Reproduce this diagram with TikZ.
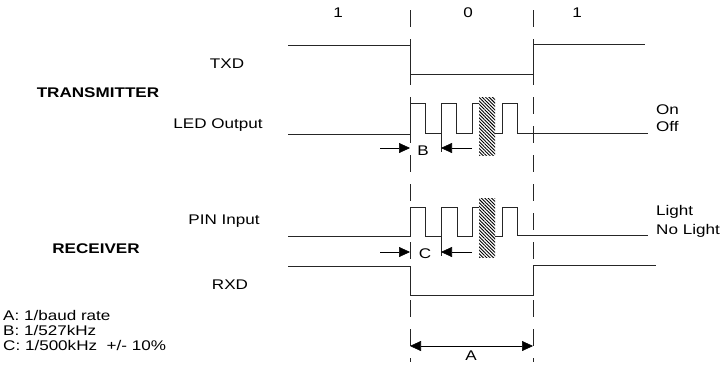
\documentclass[tikz,border=0pt]{standalone}
\usepackage{fontspec}
\setmainfont{Liberation Sans}[FakeStretch=1.22]
\usetikzlibrary{arrows.meta,patterns.meta}
\begin{document}
\begin{tikzpicture}[x=1pt,y=-1pt,
   sig/.style={line width=1pt,black!85},
   grid/.style={line width=0.8pt,black!85,dash pattern=on 17pt off 12pt},
   dim/.style={line width=0.6pt,-{Triangle[length=11pt,width=10pt]}},
   dimboth/.style={line width=0.6pt,{Triangle[length=11pt,width=10pt]}-{Triangle[length=11pt,width=10pt]}},
   lbl/.style={font=\fontsize{14}{16}\selectfont,inner sep=0pt},
   jitter/.style={pattern={Lines[angle=-45,distance=2.4pt,line width=0.9pt]}}]
   \useasboundingbox (0,0) rectangle (723,365);
   % bit boundaries
   \draw [grid] (410,10) -- (410,362);
   \draw [grid] (533,10) -- (533,362);
   \node [lbl,anchor=base] (bitone) at (338,17) {1};
   \node [lbl,anchor=base] (bitzero) at (468,17) {0};
   \node [lbl,anchor=base] (bitonetoo) at (577,17) {1};
   % transmitter
   \draw [sig] (288,45) -- (410,45) -- (410,74) -- (533,74) -- (533,44) -- (645,44);
   \draw [sig] (288,134) -- (410,134) -- (410,103) -- (425,103) -- (425,133) -- (441,133) -- (441,103)
    -- (456,103) -- (456,133) -- (472,133) -- (472,103) -- (488,103) -- (488,133) -- (502,133)
    -- (502,103) -- (517,103) -- (517,133) -- (648,133);
   \fill [white] (479,97) rectangle (495,155);
   \fill [jitter] (479,97) rectangle (495,155);
   \node [lbl,anchor=base] (txd) at (227,68) {TXD};
   \node [lbl,anchor=base,font=\fontsize{14}{16}\selectfont\bfseries] (trans) at (98,97) {TRANSMITTER};
   \node [lbl,anchor=base] (led) at (218,128) {LED Output};
   \node [lbl,anchor=base west] (on) at (656,114) {On};
   \node [lbl,anchor=base west] (off) at (656,131) {Off};
   \coordinate (bleft) at (380,148);
   \coordinate (bright) at (472,148);
   \coordinate (bedge) at (410,148);
   \coordinate (bnext) at (441,148);
   \draw [sig] (441,133) -- (441,152);
   \draw [dim] (bleft) -- (bedge);
   \draw [dim] (bright) -- (bnext);
   \node [lbl,anchor=base] (blbl) at (423,155) {B};
   % receiver
   \draw [sig] (288,236) -- (410,236) -- (410,207) -- (425,207) -- (425,236) -- (441,236) -- (441,207)
    -- (457,207) -- (457,236) -- (472,236) -- (472,207) -- (488,207) -- (488,236) -- (502,236)
    -- (502,207) -- (517,207) -- (517,235) -- (648,235);
   \fill [white] (479,198) rectangle (495,257);
   \fill [jitter] (479,198) rectangle (495,257);
   \draw [sig] (288,266) -- (410,266) -- (410,295) -- (533,295) -- (533,265) -- (656,265);
   \node [lbl,anchor=base] (pin) at (224,224) {PIN Input};
   \node [lbl,anchor=base,font=\fontsize{14}{16}\selectfont\bfseries] (recv) at (96,253) {RECEIVER};
   \node [lbl,anchor=base] (rxd) at (230,289) {RXD};
   \node [lbl,anchor=base west] (light) at (656,215) {Light};
   \node [lbl,anchor=base west] (nolight) at (656,234) {No Light};
   \coordinate (cleft) at (380,252);
   \coordinate (cright) at (472,252);
   \coordinate (cedge) at (410,252);
   \coordinate (cnext) at (441,252);
   \draw [sig] (441,236) -- (441,256);
   \draw [dim] (cleft) -- (cedge);
   \draw [dim] (cright) -- (cnext);
   \node [lbl,anchor=base] (clbl) at (425,258) {C};
   % bit period
   \coordinate (astart) at (410,346);
   \coordinate (aend) at (533,346);
   \draw [dimboth] (astart) -- (aend);
   \node [lbl,anchor=base] (albl) at (471,360) {A};
   \node [lbl,anchor=base west] (keya) at (3,320) {A: 1/baud rate};
   \node [lbl,anchor=base west] (keyb) at (3,335) {B: 1/527kHz};
   \node [lbl,anchor=base west] (keyc) at (3,350) {C: 1/500kHz\ \ +/- 10\%};
\end{tikzpicture}
\end{document}
